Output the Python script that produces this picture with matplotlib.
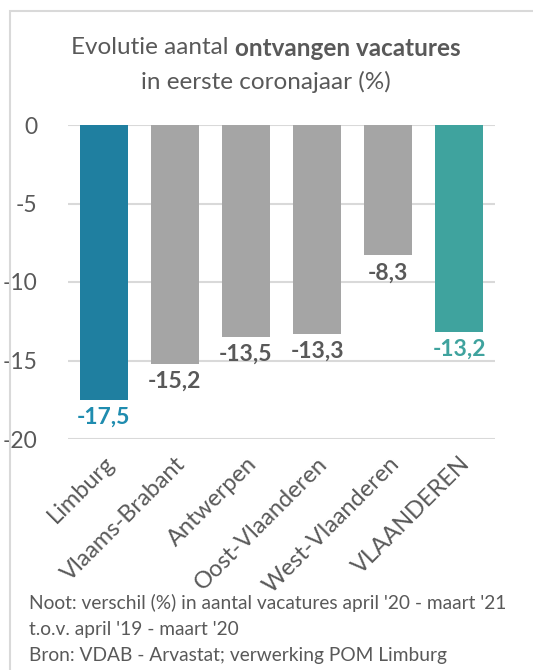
import matplotlib.pyplot as plt
from matplotlib.patches import Rectangle

plt.rcParams['font.family'] = ['Lato', 'DejaVu Sans']

# data
regions = ['Limburg', 'Vlaams-Brabant', 'Antwerpen', 'Oost-Vlaanderen',
           'West-Vlaanderen', 'VLAANDEREN']
changes = [-17.5, -15.2, -13.5, -13.3, -8.3, -13.2]
bar_colors = ['#1F7FA0', '#A5A5A5', '#A5A5A5', '#A5A5A5', '#A5A5A5', '#3FA39E']
label_colors = ['#1F8CAF', '#595959', '#595959', '#595959', '#595959', '#3FA39E']
yticks = [0, -5, -10, -15, -20]

fig = plt.figure(figsize=(5.33, 6.70), dpi=100)
ax = fig.add_axes([68 / 533, 1 - 439 / 670, (495 - 68) / 533, (439 - 125) / 670])

# light frame round the chart
fig.patches.append(Rectangle((10 / 533, -0.1), 1.2, 1 - 11 / 670 + 0.1,
                             transform=fig.transFigure, fill=False,
                             edgecolor='#D9D9D9', linewidth=1.5))

x = range(len(regions))
ax.bar(x, changes, width=0.675, color=bar_colors, zorder=2)

for i, v in enumerate(changes):
    ax.annotate(f'{v:.1f}'.replace('.', ','), (i, v), xytext=(0, -5),
                textcoords='offset points', ha='center', va='top',
                fontsize=16.5, fontweight='bold', color=label_colors[i])

ax.set_xlim(-0.5, len(regions) - 0.5)
ax.set_ylim(-20, 0)
ax.set_yticks(yticks)
ax.set_yticklabels([str(t) for t in yticks])
ax.grid(axis='y', color='#D9D9D9', linewidth=1.5, zorder=0)
ax.set_axisbelow(True)
for s in ax.spines.values():
    s.set_visible(False)
ax.tick_params(axis='y', length=0, pad=22, labelsize=16.5, labelcolor='#595959')
ax.tick_params(axis='x', length=0, pad=10)
ax.set_xticks(list(x))
ax.set_xticklabels(regions, rotation=45, ha='right', rotation_mode='anchor',
                   fontsize=17, color='#595959')

# title: first line is half normal, half bold
title_size = 17.5
t_norm = fig.text(0, 1 - 48 / 670, 'Evolutie aantal ', ha='left', va='center',
                  fontsize=title_size, color='#595959')
t_bold = fig.text(0, 1 - 48 / 670, 'ontvangen vacatures', ha='left',
                  va='center', fontsize=title_size, color='#595959',
                  fontweight='bold')
renderer = fig.canvas.get_renderer()
w_norm = t_norm.get_window_extent(renderer).width
w_bold = t_bold.get_window_extent(renderer).width
start = 266 - (w_norm + w_bold) / 2
t_norm.set_x(start / 533)
t_bold.set_x((start + w_norm) / 533)
fig.text(266 / 533, 1 - 82 / 670, 'in eerste coronajaar (%)',
         ha='center', va='center', fontsize=title_size, color='#595959')

notes = ["Noot: verschil (%) in aantal vacatures april '20 - maart '21",
         "t.o.v. april '19 - maart '20",
         "Bron: VDAB - Arvastat; verwerking POM Limburg"]
for k, line in enumerate(notes):
    fig.text(29 / 533, 1 - (603 + 26 * k) / 670, line, ha='left', va='center',
             fontsize=13.8, color='#595959')

fig.savefig('out.png', dpi=100)
